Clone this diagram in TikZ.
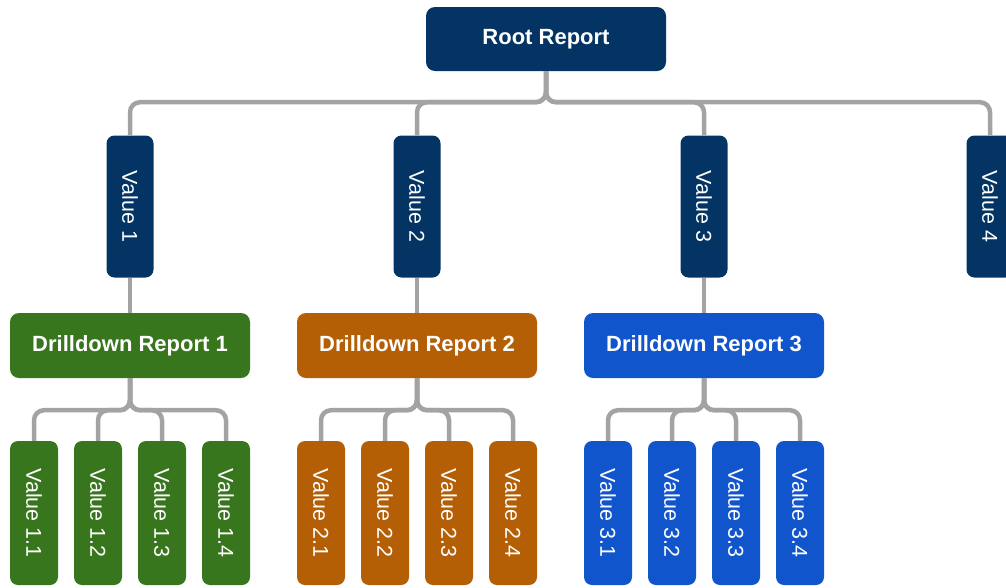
\documentclass[tikz,border=0pt]{standalone}
\usepackage{fontspec}
\setmainfont{Liberation Sans}
\usepackage{graphicx}
\usetikzlibrary{calc}
\definecolor{navy}{HTML}{043463}
\definecolor{drgreen}{HTML}{38761D}
\definecolor{drorange}{HTML}{B45F06}
\definecolor{drblue}{HTML}{1155CC}
\definecolor{wiregray}{HTML}{A3A3A3}
\begin{document}
\begin{tikzpicture}[x=1pt,y=-1pt,
	report/.style={rounded corners=9pt, text=white, minimum width=240pt, minimum height=64pt, inner sep=0pt, font=\fontsize{22}{26}\selectfont\bfseries},
	valbox/.style={rounded corners=8pt, text=white, minimum width=47pt, minimum height=142pt, inner sep=0pt, font=\fontsize{21.5}{25}\selectfont},
	wire/.style={draw=wiregray, line width=4.5pt, rounded corners=10pt}]
	\useasboundingbox (0,0) rectangle (1006,587);
	\clip (0,0) rectangle (1006,587);
	\node[report, fill=navy] (root) at (546,39) {Root Report};
	\foreach \i/\x in {1/130,2/417,3/704,4/990}{
		\node[valbox, fill=navy] (v\i) at (\x,206.5) {\rotatebox{-90}{Value \i}};
		\draw[wire] (root.south) -- ++(0,31) -| (v\i.north);
	}
	\foreach \i/\x/\c in {1/130/drgreen,2/417/drorange,3/704/drblue}{
		\node[report, fill=\c, minimum height=65pt] (d\i) at (\x,345.5) {Drilldown Report \i};
		\draw[wire] (v\i.south) -- (d\i.north);
		\foreach \j/\dx in {1/-96,2/-32,3/32,4/96}{
			\node[valbox, fill=\c, minimum width=48pt, minimum height=144pt] (s\i\j) at (\x+\dx,513) {\rotatebox{-90}{Value \i.\j}};
			\draw[wire] (d\i.south) -- ++(0,32) -| (s\i\j.north);
		}
	}
\end{tikzpicture}
\end{document}
